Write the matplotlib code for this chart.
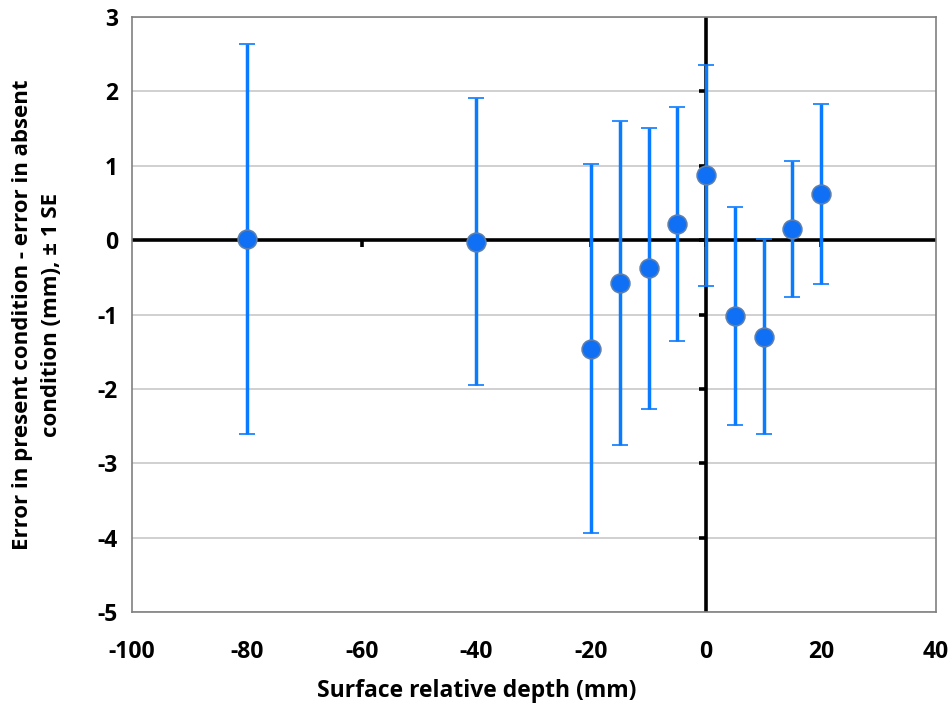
import matplotlib
matplotlib.use("Agg")
import matplotlib.pyplot as plt

# surface relative depth (mm), mean difference and +/- 1 SE
depth = [-80, -40, -20, -15, -10, -5, 0, 5, 10, 15, 20]
diff = [0.02, -0.02, -1.46, -0.58, -0.38, 0.22, 0.87, -1.02, -1.30, 0.15, 0.62]
se = [2.62, 1.93, 2.48, 2.18, 1.89, 1.57, 1.48, 1.46, 1.31, 0.92, 1.21]

x_ticks = [-100, -80, -60, -40, -20, 0, 20, 40]
y_ticks = [-5, -4, -3, -2, -1, 0, 1, 2, 3]

plt.rcParams["font.family"] = ["Open Sans", "DejaVu Sans"]
plt.rcParams["font.weight"] = "bold"
plt.rcParams["axes.unicode_minus"] = False

fig = plt.figure(figsize=(9.53, 7.12), dpi=100)
ax = fig.add_axes([0.1385, 0.1404, 0.8435, 0.8357])

ax.set_xlim(-100, 40)
ax.set_ylim(-5, 3)

# gridlines (horizontal only)
for y in y_ticks:
    ax.axhline(y, color="#c8c8c8", lw=1.2, zorder=0)

for s in ax.spines.values():
    s.set_color("#808080")
    s.set_linewidth(1.2)

# axes crossing at zero
ax.axhline(0, color="black", lw=2.6, zorder=2)
ax.axvline(0, color="black", lw=2.6, zorder=2)
ax.plot(x_ticks[1:-1], [0] * (len(x_ticks) - 2), linestyle="none", marker=3,
        markersize=5, markeredgewidth=2.6, color="black", zorder=2)
ax.plot([0] * (len(y_ticks) - 2), y_ticks[1:-1], linestyle="none", marker=0,
        markersize=5, markeredgewidth=2.6, color="black", zorder=2)

ax.errorbar(depth, diff, yerr=se, fmt="o", color="#0a7aff", ecolor="#0a7aff",
            elinewidth=2.5, capsize=6, capthick=2.5, markersize=13.5,
            markerfacecolor="#0f6ff5", markeredgecolor="#5a7fb0",
            markeredgewidth=1.2, zorder=3)

ax.set_xticks(x_ticks)
ax.set_yticks(y_ticks)
ax.tick_params(length=0, labelsize=16.5)
ax.tick_params(axis="x", pad=20)
ax.tick_params(axis="y", pad=10)
for lbl in ax.get_xticklabels() + ax.get_yticklabels():
    lbl.set_fontweight("bold")

ax.set_xlabel("Surface relative depth (mm)", fontsize=16.5, fontweight="bold")
ax.xaxis.set_label_coords(0.4285, -0.113)
ax.set_ylabel("Error in present condition - error in absent\ncondition (mm), \u00b1 1 SE",
              fontsize=16, fontweight="bold", labelpad=26, linespacing=1.45)

fig.savefig("out.png", dpi=100)
